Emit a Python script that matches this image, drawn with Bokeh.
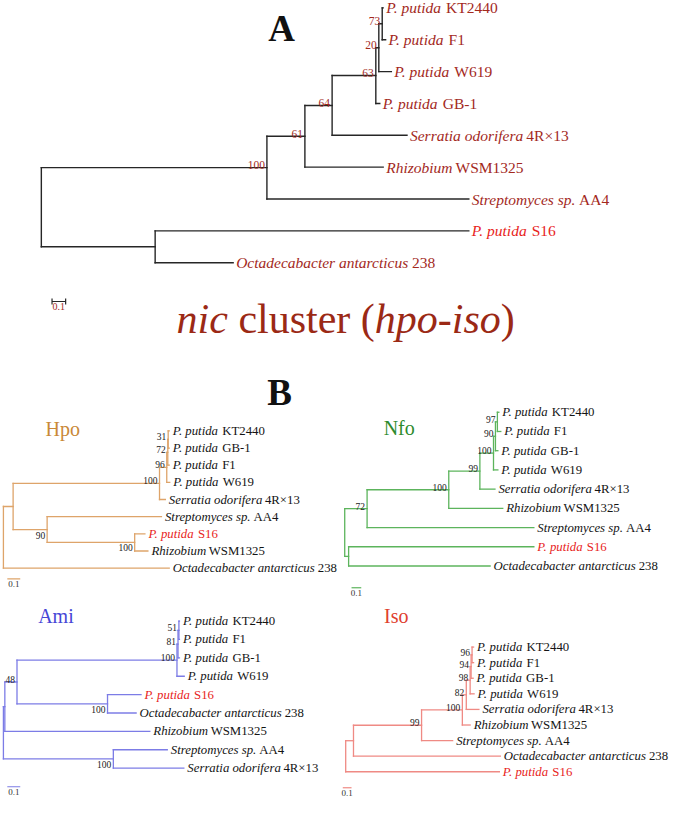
from bokeh.plotting import figure
from bokeh.models import Range1d, ColumnDataSource, Label
from bokeh.embed import file_html
from bokeh.resources import INLINE
from bokeh.core.properties import value

# ---------------- taxa ----------------
taxon_keys = ["KT2440", "F1", "W619", "GB-1", "S16", "Serratia", "Rhizobium", "Streptomyces", "Octadecabacter"]
taxon_italic = ["P. putida", "P. putida", "P. putida", "P. putida", "P. putida",
                "Serratia odorifera", "Rhizobium", "Streptomyces sp.", "Octadecabacter antarcticus"]
taxon_roman = ["KT2440", "F1", "W619", "GB-1", "S16", "4R×13", "WSM1325", "AA4", "238"]
highlight_taxon = "S16"

# ---------------- Tree A : nic cluster (hpo-iso) ----------------
A_leaves = ["KT2440", "F1", "W619", "GB-1", "Serratia", "Rhizobium", "Streptomyces", "S16", "Octadecabacter"]
A_leaf_depth = [2.511, 2.529, 2.571, 2.486, 2.686, 2.511, 3.140, 3.140, 1.409]
A_nodes = ["a", "b", "c", "d", "e", "f", "g", "root"]
A_children = [["KT2440", "F1"], ["a", "W619"], ["b", "GB-1"], ["c", "Serratia"], ["d", "Rhizobium"],
              ["e", "Streptomyces"], ["S16", "Octadecabacter"], ["f", "g"]]
A_node_depth = [2.504, 2.479, 2.457, 2.136, 1.936, 1.657, 0.836, 0.0]
A_support = [73, 20, 63, 64, 61, 100, None, None]

# ---------------- Hpo ----------------
Hpo_leaves = ["KT2440", "GB-1", "F1", "W619", "Serratia", "Streptomyces", "S16", "Rhizobium", "Octadecabacter"]
Hpo_leaf_depth = [1.282, 1.282, 1.282, 1.286, 1.252, 1.222, 1.094, 1.117, 1.282]
Hpo_nodes = ["a", "b", "c", "d", "e", "f", "g", "root"]
Hpo_children = [["KT2440", "GB-1"], ["a", "F1"], ["b", "W619"], ["c", "Serratia"], ["S16", "Rhizobium"],
                ["Streptomyces", "e"], ["d", "f"], ["g", "Octadecabacter"]]
Hpo_node_depth = [1.274, 1.271, 1.263, 1.207, 1.015, 0.338, 0.075, 0.0]
Hpo_support = [31, 72, 96, 100, 100, 90, None, None]

# ---------------- Nfo ----------------
Nfo_leaves = ["KT2440", "F1", "GB-1", "W619", "Serratia", "Rhizobium", "Streptomyces", "S16", "Octadecabacter"]
Nfo_leaf_depth = [1.585, 1.605, 1.575, 1.575, 1.545, 1.625, 1.945, 1.945, 1.495]
Nfo_nodes = ["a", "b", "c", "d", "e", "f", "g", "root"]
Nfo_children = [["KT2440", "F1"], ["a", "GB-1"], ["b", "W619"], ["c", "Serratia"], ["d", "Rhizobium"],
                ["e", "Streptomyces"], ["S16", "Octadecabacter"], ["f", "g"]]
Nfo_node_depth = [1.57, 1.55, 1.53, 1.39, 1.07, 0.23, 0.04, 0.0]
Nfo_support = [97, 90, 100, 99, 100, 72, None, None]

# ---------------- Ami ----------------
Ami_leaves = ["KT2440", "F1", "GB-1", "W619", "S16", "Octadecabacter", "Rhizobium", "Streptomyces", "Serratia"]
Ami_leaf_depth = [1.361, 1.361, 1.361, 1.398, 1.064, 1.026, 1.132, 1.267, 1.395]
Ami_nodes = ["a", "b", "c", "d", "e", "f", "g", "root"]
Ami_children = [["KT2440", "F1"], ["a", "GB-1"], ["b", "W619"], ["S16", "Octadecabacter"], ["c", "d"],
                ["e", "Rhizobium"], ["Streptomyces", "Serratia"], ["f", "g"]]
Ami_node_depth = [1.357, 1.350, 1.342, 0.805, 0.105, 0.011, 0.850, 0.0]
Ami_support = [51, 81, 100, 100, 48, None, 100, None]

# ---------------- Iso ----------------
Iso_leaves = ["KT2440", "F1", "GB-1", "W619", "Serratia", "Rhizobium", "Streptomyces", "Octadecabacter", "S16"]
Iso_leaf_depth = [1.461, 1.461, 1.456, 1.467, 1.522, 1.422, 1.222, 1.767, 1.756]
Iso_nodes = ["a", "b", "c", "d", "e", "f", "g", "root"]
Iso_children = [["KT2440", "F1"], ["a", "GB-1"], ["b", "W619"], ["c", "Serratia"], ["d", "Rhizobium"],
                ["e", "Streptomyces"], ["f", "Octadecabacter"], ["g", "S16"]]
Iso_node_depth = [1.444, 1.433, 1.422, 1.378, 1.333, 0.867, 0.089, 0.0]
Iso_support = [96, 94, 98, 82, 100, 99, None, None]

scale_bar_value = 0.1

# ---------------- text metrics (Times / Liberation Serif) ----------------
REG = {' ': 250, '.': 250, '-': 333, '(': 333, ')': 333, '×': 564, 'A': 722, 'B': 667, 'F': 556, 'G': 722,
       'K': 722, 'M': 889, 'R': 667, 'S': 556, 'T': 611, 'W': 944, 'a': 444, 'b': 500, 'c': 444, 'd': 500,
       'e': 444, 'f': 333, 'h': 500, 'i': 278, 'l': 278, 'm': 778, 'n': 500, 'o': 500, 'p': 500, 'r': 333,
       's': 389, 't': 278, 'u': 500}
ITA = {' ': 250, '.': 250, '-': 333, 'P': 611, 'S': 500, 'R': 611, 'O': 722, 'a': 500, 'b': 500, 'c': 444,
       'd': 500, 'e': 444, 'f': 278, 'h': 500, 'i': 278, 'l': 278, 'm': 722, 'n': 500, 'o': 500, 'p': 500,
       'r': 389, 's': 389, 't': 278, 'u': 500, 'y': 444, 'z': 389}


def tw(s, tab, size):
    return sum(tab.get(ch, 500) for ch in s) * size / 1000.0


FONT_NAME = "Liberation Serif"
FONT = value(FONT_NAME)

p = figure(width=669, height=800, x_range=Range1d(0, 688), y_range=Range1d(816, 0),
           output_backend="svg", toolbar_location=None, x_axis_type=None, y_axis_type=None,
           min_border=0, outline_line_color=None, background_fill_color="white",
           border_fill_color="white")
p.grid.visible = False

PANELS = [
    dict(leaves=A_leaves, leaf_depth=A_leaf_depth, nodes=A_nodes, children=A_children,
         node_depth=A_node_depth, support=A_support,
         x0=42, ppu=140, y0=7.5, dy=32.5, branch="#262626", lw=1.4,
         label_color="#a3291d", label_size=15.5, gap=3, sup_color="#a3291d", sup_size=11.5,
         bar=(53, 307), ticks=True, bar_color="#262626", bar_text="#a3291d", bar_size=10),
    dict(leaves=Hpo_leaves, leaf_depth=Hpo_leaf_depth, nodes=Hpo_nodes, children=Hpo_children,
         node_depth=Hpo_node_depth, support=Hpo_support,
         x0=3, ppu=133, y0=439, dy=17.5, branch="#dea46a", lw=1.3,
         label_color="#141414", label_size=12.8, gap=3.5, sup_color="#222222", sup_size=9.5,
         bar=(7, 590), ticks=False, bar_color="#dea46a", bar_text="#333333", bar_size=9),
    dict(leaves=Nfo_leaves, leaf_depth=Nfo_leaf_depth, nodes=Nfo_nodes, children=Nfo_children,
         node_depth=Nfo_node_depth, support=Nfo_support,
         x0=354, ppu=100, y0=420, dy=19.6, branch="#5cb45c", lw=1.3,
         label_color="#141414", label_size=12.8, gap=3.5, sup_color="#222222", sup_size=9.5,
         bar=(361, 599), ticks=False, bar_color="#5cb45c", bar_text="#333333", bar_size=9),
    dict(leaves=Ami_leaves, leaf_depth=Ami_leaf_depth, nodes=Ami_nodes, children=Ami_children,
         node_depth=Ami_node_depth, support=Ami_support,
         x0=3, ppu=133, y0=633, dy=18.75, branch="#7c7ce6", lw=1.3,
         label_color="#141414", label_size=12.8, gap=3.5, sup_color="#222222", sup_size=9.5,
         bar=(7, 802), ticks=False, bar_color="#7c7ce6", bar_text="#333333", bar_size=9),
    dict(leaves=Iso_leaves, leaf_depth=Iso_leaf_depth, nodes=Iso_nodes, children=Iso_children,
         node_depth=Iso_node_depth, support=Iso_support,
         x0=355, ppu=90, y0=659.5, dy=15.9, branch="#ef8a84", lw=1.3,
         label_color="#141414", label_size=12.8, gap=3.5, sup_color="#222222", sup_size=9.5,
         bar=(352, 803), ticks=False, bar_color="#ef8a84", bar_text="#333333", bar_size=9),
]

for P in PANELS:
    pos = {}
    for i, (k, d) in enumerate(zip(P["leaves"], P["leaf_depth"])):
        pos[k] = (P["x0"] + d * P["ppu"], P["y0"] + i * P["dy"])
    seg = dict(x0=[], y0=[], x1=[], y1=[])
    which_child = {}
    for n, ch in zip(P["nodes"], P["children"]):
        for j, c in enumerate(ch):
            which_child[c] = j
    node_xy = {}
    for n, ch, d in zip(P["nodes"], P["children"], P["node_depth"]):
        ys = [pos[c][1] for c in ch]
        x = P["x0"] + d * P["ppu"]
        y = (ys[0] + ys[-1]) / 2.0
        pos[n] = (x, y)
        node_xy[n] = (x, y)
        seg["x0"].append(x); seg["y0"].append(ys[0]); seg["x1"].append(x); seg["y1"].append(ys[-1])
        for c in ch:
            seg["x0"].append(x); seg["y0"].append(pos[c][1])
            seg["x1"].append(pos[c][0]); seg["y1"].append(pos[c][1])
    p.segment(x0="x0", y0="y0", x1="x1", y1="y1", source=ColumnDataSource(seg),
              line_color=P["branch"], line_width=P["lw"], line_cap="square")

    # scale bar
    bx, by = P["bar"]
    blen = scale_bar_value * P["ppu"]
    sb = dict(x0=[bx], y0=[by], x1=[bx + blen], y1=[by])
    if P["ticks"]:
        sb["x0"] += [bx, bx + blen]; sb["x1"] += [bx, bx + blen]
        sb["y0"] += [by - 3, by - 3]; sb["y1"] += [by + 3, by + 3]
    p.segment(x0="x0", y0="y0", x1="x1", y1="y1", source=ColumnDataSource(sb),
              line_color=P["bar_color"], line_width=1.2)
    p.text(x=[bx + blen / 2], y=[by], text=[str(scale_bar_value)], y_offset=2,
           text_font=FONT, text_font_size="%gpx" % P["bar_size"], text_align="center",
           text_baseline="top", text_color=P["bar_text"])

    # leaf labels (italic genus/species + roman strain)
    it = dict(x=[], y=[], t=[], xo=[], c=[])
    ro = dict(x=[], y=[], t=[], xo=[], c=[])
    for k in P["leaves"]:
        idx = taxon_keys.index(k)
        col = "#e8231b" if k == highlight_taxon else P["label_color"]
        x, y = pos[k]
        ital = taxon_italic[idx]
        it["x"].append(x); it["y"].append(y); it["t"].append(ital); it["xo"].append(P["gap"]); it["c"].append(col)
        ro["x"].append(x); ro["y"].append(y); ro["t"].append(taxon_roman[idx])
        ro["xo"].append(P["gap"] + tw(ital, ITA, P["label_size"]) + 0.2 * P["label_size"]); ro["c"].append(col)
    p.text(x="x", y="y", text="t", x_offset="xo", text_color="c", source=ColumnDataSource(it),
           text_font=FONT, text_font_style="italic", text_font_size="%gpx" % P["label_size"],
           text_align="left", text_baseline="middle")
    p.text(x="x", y="y", text="t", x_offset="xo", text_color="c", source=ColumnDataSource(ro),
           text_font=FONT, text_font_style="normal", text_font_size="%gpx" % P["label_size"],
           text_align="left", text_baseline="middle")

    # bootstrap support values
    up = dict(x=[], y=[], t=[])
    dn = dict(x=[], y=[], t=[])
    for n, s in zip(P["nodes"], P["support"]):
        if s is None:
            continue
        x, y = node_xy[n]
        tgt = up if which_child.get(n, 0) == 0 else dn
        tgt["x"].append(x); tgt["y"].append(y); tgt["t"].append(str(s))
    p.text(x="x", y="y", text="t", source=ColumnDataSource(up), x_offset=-2, y_offset=-2.5,
           text_font=FONT, text_font_size="%gpx" % P["sup_size"], text_color=P["sup_color"],
           text_align="right", text_baseline="alphabetic")
    p.text(x="x", y="y", text="t", source=ColumnDataSource(dn), x_offset=-2, y_offset=2,
           text_font=FONT, text_font_size="%gpx" % P["sup_size"], text_color=P["sup_color"],
           text_align="right", text_baseline="top")

# ---------------- headings ----------------
for txt, x, y in [("A", 289, 29), ("B", 287, 400)]:
    p.add_layout(Label(x=x, y=y, text=txt, text_font=FONT_NAME, text_font_style="bold",
                       text_font_size="37px", text_align="center", text_baseline="alphabetic",
                       text_color="#111111"))

panel_titles = ["Hpo", "Nfo", "Ami", "Iso"]
panel_title_colors = ["#c98838", "#2e8b2e", "#4646d6", "#e0402e"]
panel_title_xy = [(64, 437), (410, 436), (57, 628), (407, 628)]
for t, c, (x, y) in zip(panel_titles, panel_title_colors, panel_title_xy):
    p.add_layout(Label(x=x, y=y, text=t, text_font=FONT_NAME, text_font_size="20px", text_color=c,
                       text_align="center", text_baseline="middle"))

# main title with mixed italics (spaces handled as offsets, not as text)
title_parts = [("nic", True, 1), ("cluster (", False, 0), ("hpo-iso", True, 0), (")", False, 0)]
tsize = 42
space_w = tw(" ", REG, tsize)
widths = [tw(s, ITA if ital else REG, tsize) + sp * space_w for s, ital, sp in title_parts]
total = sum(widths)
off = -total / 2.0
for (s, ital, sp), w in zip(title_parts, widths):
    p.add_layout(Label(x=355, y=325, x_offset=off, text=s, text_font=FONT_NAME,
                       text_font_style="italic" if ital else "normal", text_font_size="%dpx" % tsize,
                       text_color="#9b2915", text_align="left", text_baseline="alphabetic"))
    off += w

open("out.html", "w").write(file_html(p, INLINE))
